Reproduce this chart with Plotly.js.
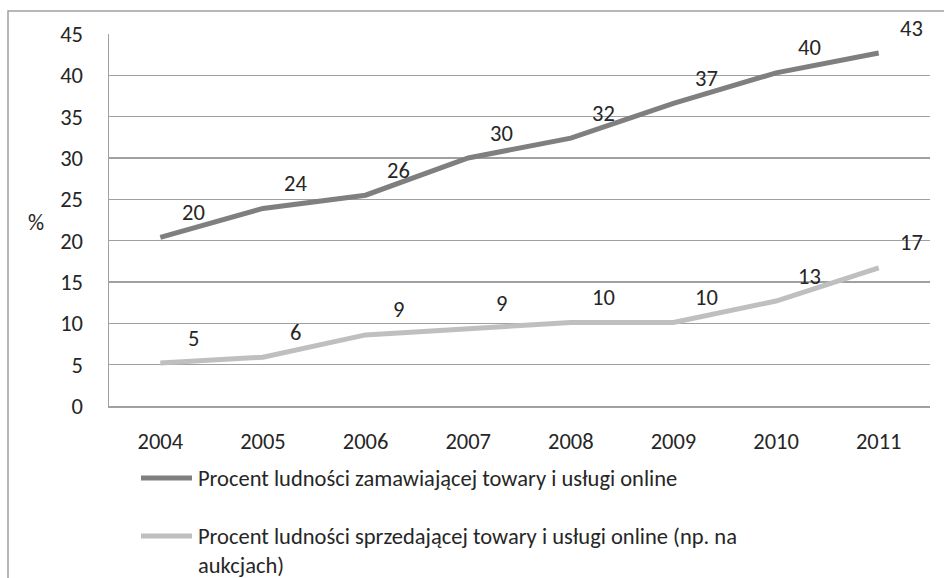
<!DOCTYPE html>
<html>
<head>
<meta charset="utf-8">
<script src="https://cdn.plot.ly/plotly-3.0.1.min.js"></script>
<style>html,body{margin:0;padding:0;background:#fff;}#chart{width:944px;height:578px;}</style>
</head>
<body>
<div id="chart"></div>
<script>
const years = ['2004','2005','2006','2007','2008','2009','2010','2011'];
const ordering = [20.4, 23.9, 25.5, 30.0, 32.4, 36.6, 40.3, 42.7];
const selling = [5.2, 5.9, 8.6, 9.4, 10.1, 10.1, 12.7, 16.7];
const nameOrdering = 'Procent ludności zamawiającej towary i usługi online';
const nameSelling = 'Procent ludności sprzedającej towary i usługi online (np. na<br>aukcjach)';
const yTicks = [0,5,10,15,20,25,30,35,40,45];

const FONT = 'Carlito, Lato, "Liberation Sans", sans-serif';
const FS = 22.5;
const TXT = '#262626';
const C1 = '#7f7f7f', C2 = '#bfbfbf';

const traces = [
  {x: years, y: ordering, type: 'scatter', mode: 'lines', name: nameOrdering,
   line: {color: C1, width: 5}, hoverinfo: 'skip'},
  {x: years, y: selling, type: 'scatter', mode: 'lines', name: nameSelling,
   line: {color: C2, width: 5}, hoverinfo: 'skip'}
];

// pixel -> paper helpers (plot area: x 109..930, y 34..406)
const px = v => (v - 109) / 821;
const py = v => (406 - v) / 372;

const annotations = [];
[ordering, selling].forEach(series => {
  series.forEach((v, i) => {
    annotations.push({x: i, y: v, xref: 'x', yref: 'y', text: String(Math.round(v)),
      showarrow: false, xshift: 33, yshift: 25, xanchor: 'center', yanchor: 'middle',
      font: {family: FONT, size: FS, color: TXT}});
  });
});
annotations.push({xref: 'paper', yref: 'paper', x: px(36), y: py(222), xanchor: 'center', yanchor: 'middle',
  text: '%', showarrow: false, font: {family: FONT, size: FS, color: TXT}});
// legend texts
annotations.push({xref: 'paper', yref: 'paper', x: px(196), y: py(478), xanchor: 'left', yanchor: 'middle',
  text: nameOrdering, showarrow: false, align: 'left', font: {family: FONT, size: FS, color: TXT}});
annotations.push({xref: 'paper', yref: 'paper', x: px(196), y: py(521), xanchor: 'left', yanchor: 'top',
  text: nameSelling, showarrow: false, align: 'left', font: {family: FONT, size: FS, color: TXT}});

const layout = {
  width: 944, height: 578,
  margin: {l: 109, r: 14, t: 34, b: 172},
  paper_bgcolor: '#ffffff', plot_bgcolor: '#ffffff',
  font: {family: FONT, size: FS, color: TXT},
  showlegend: false,
  xaxis: {type: 'category', range: [-0.5, 7.5], autorange: false, showgrid: false, zeroline: false, showline: true,
    linecolor: '#a0a0a0', linewidth: 1.5, ticks: '', ticklabelstandoff: 14,
    tickfont: {family: FONT, size: FS, color: TXT}, fixedrange: true},
  yaxis: {range: [0, 45], autorange: false, tickvals: yTicks, showgrid: true, gridcolor: '#a0a0a0', gridwidth: 1.5,
    zeroline: false, showline: true, linecolor: '#a0a0a0', linewidth: 1.5, ticks: '',
    ticklabelstandoff: 20, tickfont: {family: FONT, size: FS, color: TXT}, fixedrange: true},
  annotations: annotations,
  shapes: [
    {type: 'rect', xref: 'paper', yref: 'paper', x0: px(8), x1: 1.2, y0: -0.6, y1: py(11),
     line: {color: '#a0a0a0', width: 1.5}, fillcolor: 'rgba(0,0,0,0)', layer: 'below'},
    {type: 'line', xref: 'paper', yref: 'paper', x0: px(141), x1: px(192), y0: py(478), y1: py(478),
     line: {color: C1, width: 5}},
    {type: 'line', xref: 'paper', yref: 'paper', x0: px(141), x1: px(192), y0: py(536), y1: py(536),
     line: {color: C2, width: 5}}
  ]
};

Plotly.newPlot('chart', traces, layout, {staticPlot: true, displayModeBar: false});
</script>
</body>
</html>
